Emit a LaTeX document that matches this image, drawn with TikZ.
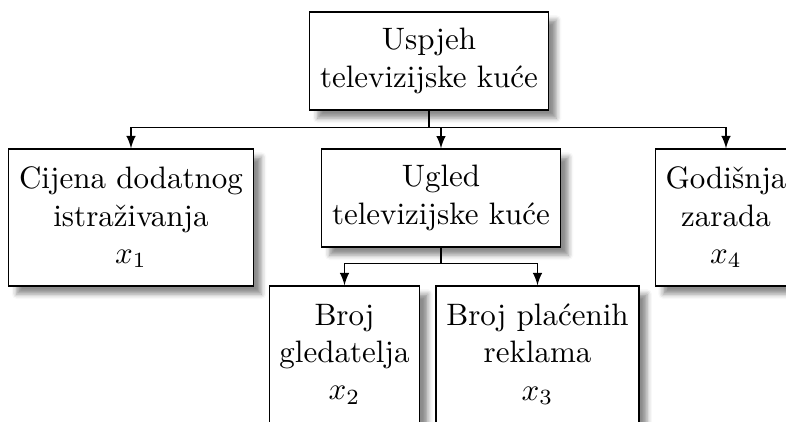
\documentclass[tikz,border=0pt]{standalone}
\usepackage{fontspec}
\usepackage{amsmath}
\usepackage{tikz}
\usetikzlibrary{arrows}
\usetikzlibrary{shadows.blur}

\begin{document}
\begin{tikzpicture}[x=0.3226pt,y=-0.3226pt,
      kutija/.style={draw,fill=white,align=center,line width=0.4pt,
        blur shadow={shadow xshift=2.6pt,shadow yshift=-2.6pt,shadow blur radius=1.6pt,shadow opacity=45}},
      veza/.style={-latex,line width=0.4pt}]
      \useasboundingbox (0,0) rectangle (786,422);
      
      \node[kutija,minimum width=76.1pt,minimum height=31.6pt] (uspjeh) at (429,61) {Uspjeh\\televizijske kuće};
      
      \node[kutija,minimum width=76.1pt,minimum height=44.2pt] (cijena) at (131,217.5) {Cijena dodatnog\\istraživanja\\$x_1$};
      \node[kutija,minimum width=76.1pt,minimum height=31.6pt] (ugled) at (441,198) {Ugled\\televizijske kuće};
      \node[kutija,minimum width=43.9pt,minimum height=44.2pt] (zarada) at (726,217.5) {Godišnja\\zarada\\$x_4$};
      
      \node[kutija,minimum width=47.4pt,minimum height=44.2pt] (gledatelji) at (344.5,354.5) {Broj\\gledatelja\\$x_2$};
      \node[kutija,minimum width=62.9pt,minimum height=44.2pt] (reklame) at (537.5,354.5) {Broj plaćenih\\reklama\\$x_3$};
      
      \draw[veza] (uspjeh.south) -- ++(0,17) -| (cijena.north);
      \draw[veza] (uspjeh.south) -- ++(0,17) -| (ugled.north);
      \draw[veza] (uspjeh.south) -- ++(0,17) -| (zarada.north);
      
      \draw[veza] (ugled.south) -- ++(0,16) -| (gledatelji.north);
      \draw[veza] (ugled.south) -- ++(0,16) -| (reklame.north);
  \end{tikzpicture}
\end{document}
